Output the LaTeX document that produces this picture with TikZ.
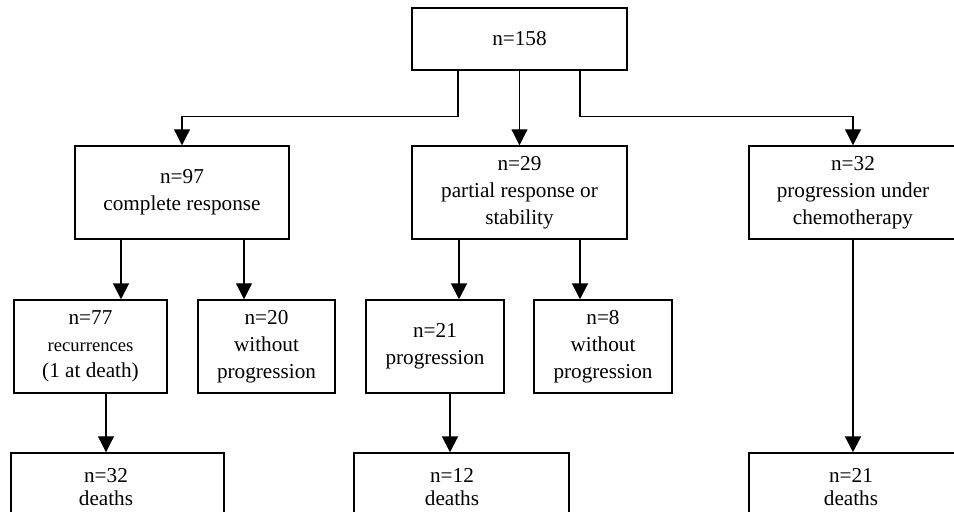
\documentclass[tikz,border=0pt]{standalone}
\usepackage{fontspec}
\setmainfont{Liberation Serif}
\usetikzlibrary{calc, positioning}
\usetikzlibrary{arrows.meta}

\begin{document}
\begin{tikzpicture}[x=0.5pt, y=-0.5pt,
  box/.style={draw, line width=0.75pt, inner sep=0pt, align=center,
    font=\fontsize{10.6}{13.4}\selectfont},
  txt/.style={inner sep=0pt, align=center, font=\fontsize{10.6}{11.6}\selectfont},
  arr/.style={line width=0.6pt, -{Triangle[length=8pt, width=8pt]}},
  arrthick/.style={arr, line width=1pt}]
\useasboundingbox (0,0) rectangle (954,511);

\node[box, minimum width=107.5pt, minimum height=31pt] (all) at (519.5,39) {n=158};

\node[box, minimum width=107pt, minimum height=46.5pt] (cr) at (182,192.5) {n=97\\complete response};
\node[box, minimum width=107.5pt, minimum height=46.5pt] (pr) at (519.5,192.5) {n=29\\partial response or\\stability};
\node[box, minimum width=104pt, minimum height=46.5pt] (pc) at (853,192.5) {n=32\\progression under\\chemotherapy};

\node[box, minimum width=76.5pt, minimum height=46.5pt] (rec) at (90.5,346.5) {n=77\\{\fontsize{9.3}{12.4}\selectfont recurrences}\\(1 at death)};
\node[box, minimum width=68.5pt, minimum height=46.5pt] (wo20) at (266.5,346.5) {n=20\\without\\progression};
\node[box, minimum width=69pt, minimum height=46.5pt] (pgr) at (435,346.5) {n=21\\progression};
\node[box, minimum width=69pt, minimum height=46.5pt] (wo8) at (603,346.5) {n=8\\without\\progression};

\node[box, minimum width=106.5pt, minimum height=46.5pt] (d32) at (117.5,499.5) {};
\node[box, minimum width=107.5pt, minimum height=46.5pt] (d12) at (461.5,499.5) {};
\node[box, minimum width=104pt, minimum height=46.5pt] (d21) at (853,499.5) {};
\node[txt, anchor=north] (t32) at (106,468) {n=32\\deaths};
\node[txt, anchor=north] (t12) at (452,468) {n=12\\deaths};
\node[txt, anchor=north] (t21) at (851,468) {n=21\\deaths};

\coordinate (allL) at ($(all.south)+(-61.5,0)$);
\coordinate (allR) at ($(all.south)+(60.5,0)$);
\coordinate (crL) at ($(cr.south)+(-61,0)$);
\coordinate (crR) at ($(cr.south)+(62,0)$);
\coordinate (prL) at ($(pr.south)+(-60.5,0)$);
\coordinate (prR) at ($(pr.south)+(60.5,0)$);
\coordinate (recB) at ($(rec.south)+(15.5,0)$);
\coordinate (pgrB) at ($(pgr.south)+(15,0)$);

\draw[arr] (allL) -- ++(0,46) -| (cr.north);
\draw[arr] (all.south) -- (pr.north);
\draw[arr] (allR) -- ++(0,46) -| (pc.north);

\draw[arrthick] (crL) -- (crL |- rec.north);
\draw[arr] (crR) -- (crR |- wo20.north);
\draw[arrthick] (prL) -- (prL |- pgr.north);
\draw[arrthick] (prR) -- (prR |- wo8.north);

\draw[arr] (recB) -- (recB |- d32.north);
\draw[arrthick] (pgrB) -- (pgrB |- d12.north);
\draw[arrthick] (pc.south) -- (d21.north);
\end{tikzpicture}
\end{document}
